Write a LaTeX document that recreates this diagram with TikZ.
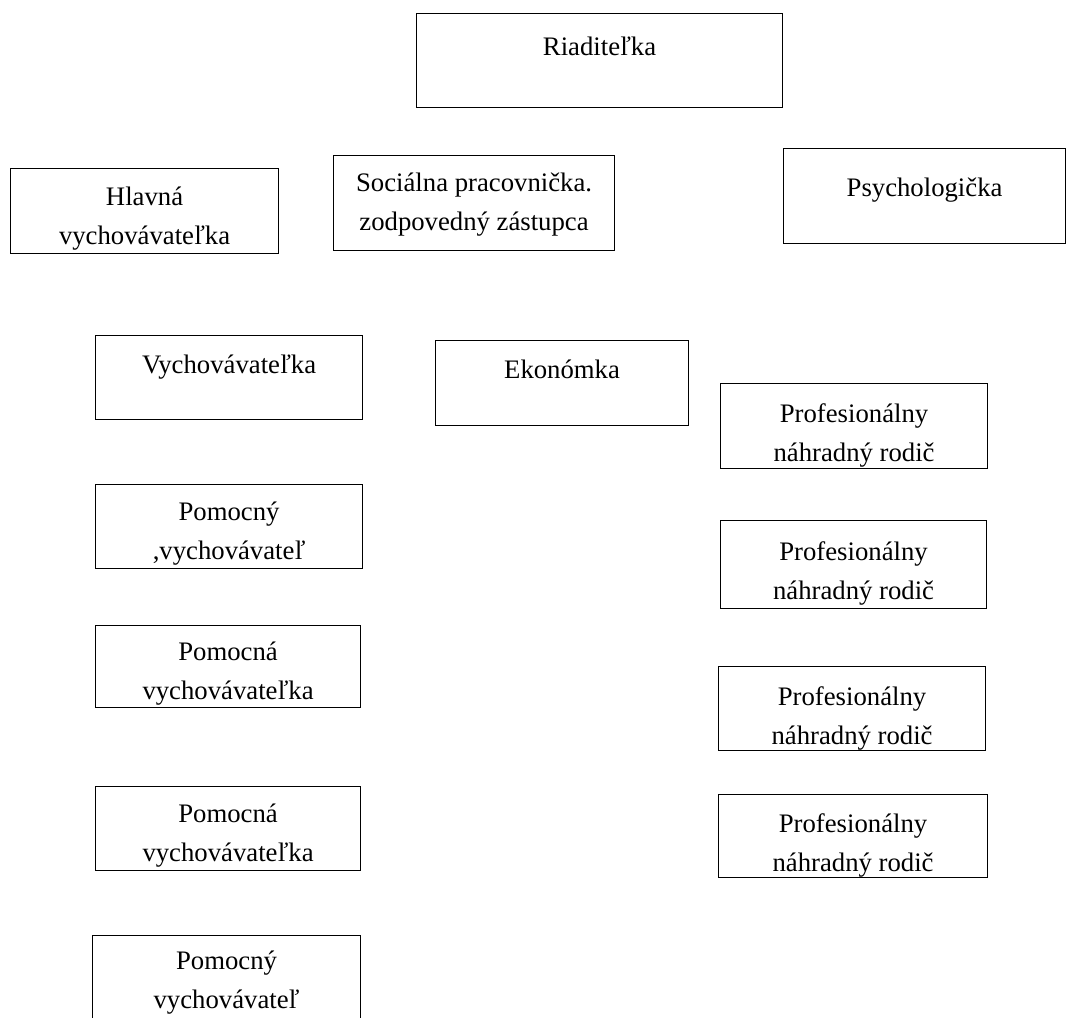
\documentclass[tikz,border=0pt]{standalone}
\usepackage{fontspec}
\setmainfont{Liberation Serif}
\usepackage{tikz}
\newlength\px
\setlength\px{0.025cm}
\tikzset{post/.style={draw=black,line width=0.8pt,anchor=north west,align=center,
  inner xsep=0pt,inner ysep=0pt,font=\fontsize{19}{28}\selectfont}}

\begin{document}
\begin{tikzpicture}[x=0.025cm,y=-0.025cm]
\useasboundingbox (0,0) rectangle (1068,1018);
\node[post,minimum width=366\px,text height=42\px,text depth=52\px] (ria) at (416,13) {Riaditeľka};
\node[post,minimum width=268\px,text height=76\px,text depth=9\px] (hlav) at (10,168) {Hlavná\\vychovávateľka};
\node[post,minimum width=281\px,text height=75\px,text depth=20\px] (soc) at (333,155) {Sociálna pracovnička.\\zodpovedný zástupca};
\node[post,minimum width=282\px,text height=48\px,text depth=47\px] (psy) at (783,148) {Psychologička};

\node[post,minimum width=267\px,text height=38\px,text depth=46\px] (vych) at (95,335) {Vychovávateľka};
\node[post,minimum width=253\px,text height=38\px,text depth=47\px] (ekon) at (435,340) {Ekonómka};

\node[post,minimum width=267\px,text height=78\px,text depth=7\px] (prof1) at (720,383) {Profesionálny\\náhradný rodič};
\node[post,minimum width=266\px,text height=79\px,text depth=9\px] (prof2) at (720,520) {Profesionálny\\náhradný rodič};
\node[post,minimum width=267\px,text height=78\px,text depth=6\px] (prof3) at (718,666) {Profesionálny\\náhradný rodič};
\node[post,minimum width=269\px,text height=77\px,text depth=6\px] (prof4) at (718,794) {Profesionálny\\náhradný rodič};

\node[post,minimum width=267\px,text height=75\px,text depth=9\px] (pomy1) at (95,484) {Pomocný\\,vychovávateľ};
\node[post,minimum width=265\px,text height=74\px,text depth=8\px] (poma1) at (95,625) {Pomocná\\vychovávateľka};
\node[post,minimum width=265\px,text height=75\px,text depth=9\px] (poma2) at (95,786) {Pomocná\\vychovávateľka};
\node[post,minimum width=268\px,text height=73\px,text depth=22\px] (pomy2) at (92,935) {Pomocný\\vychovávateľ};
\end{tikzpicture}
\end{document}
